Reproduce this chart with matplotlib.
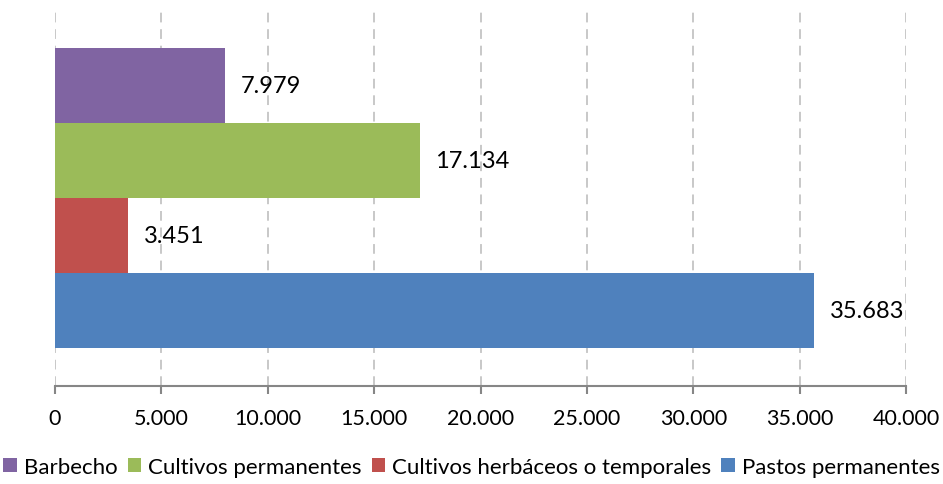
import matplotlib
matplotlib.use("Agg")
import matplotlib.pyplot as plt
from matplotlib.ticker import FuncFormatter
from matplotlib.patches import Patch

series = ["Barbecho", "Cultivos permanentes", "Cultivos herbáceos o temporales", "Pastos permanentes"]
values = [7979, 17134, 3451, 35683]
colors = ["#8064A2", "#9BBB59", "#C0504D", "#4F81BD"]
xticks = [0, 5000, 10000, 15000, 20000, 25000, 30000, 35000, 40000]

plt.rcParams['font.family'] = ['Lato', 'DejaVu Sans']

fig = plt.figure(figsize=(9.43, 4.85), dpi=100)
W, H = 943, 485
ax = fig.add_axes([55 / W, 1 - 387 / H, (906 - 55) / W, (387 - 11) / H])

def fmt(v, pos=None):
    return f"{int(round(v)):,}".replace(",", ".")

bh = 0.2
n = len(values)
for i, (s, v, c) in enumerate(zip(series, values, colors)):
    y = (n - 1 - i) * bh - (n - 1) * bh / 2
    ax.barh(y, v, height=bh, color=c, zorder=3)
    ax.annotate(fmt(v), xy=(v, y), xytext=(11.5, 0), textcoords="offset points",
                va="center", ha="left", fontsize=17, color="black", zorder=4)

ax.set_xlim(0, 40000)
ax.set_ylim(-0.5, 0.5)
ax.set_xticks(xticks)
ax.xaxis.set_major_formatter(FuncFormatter(fmt))
ax.set_yticks([])
for sp in ["top", "right", "left"]:
    ax.spines[sp].set_visible(False)
ax.spines["bottom"].set_color("#868686")
ax.spines["bottom"].set_linewidth(1.5)
ax.tick_params(axis="x", direction="out", length=6, width=1.5, color="#868686",
               labelsize=15.5, pad=10, labelcolor="black")
ax.grid(axis="x", color="#C8C8C8", linestyle=(0, (5, 3.5)), linewidth=1.4, zorder=0)
ax.set_axisbelow(True)

handles = [Patch(facecolor=c, label=s) for s, c in zip(series, colors)]
fig.legend(handles=handles, loc="center", bbox_to_anchor=(0.5, 1 - 468 / H), ncol=4,
           frameon=False, fontsize=16, handlelength=0.62, handleheight=0.62,
           handletextpad=0.3, columnspacing=0.45, borderaxespad=0)

fig.savefig("out.png", dpi=100)
